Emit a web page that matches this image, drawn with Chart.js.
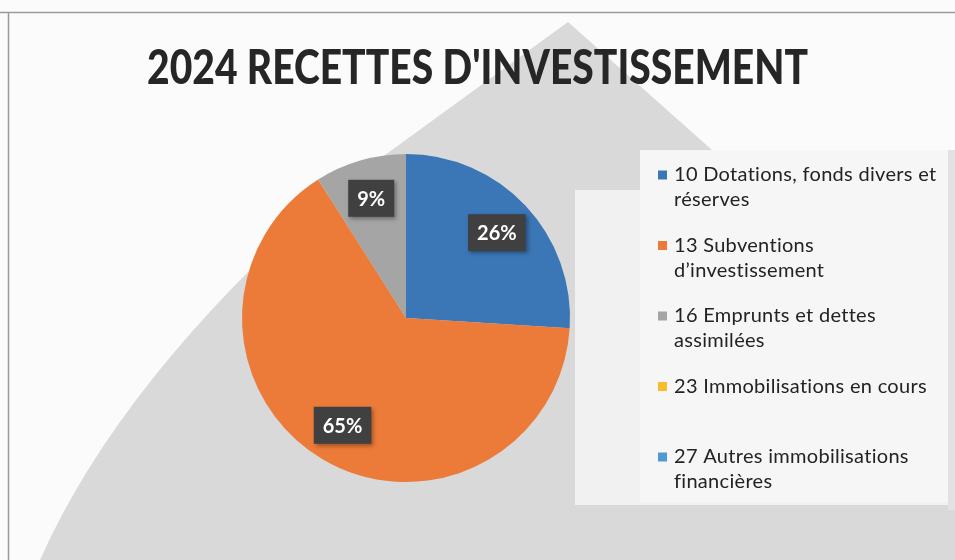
<!DOCTYPE html>
<html>
<head>
<meta charset="utf-8">
<script src="https://cdn.jsdelivr.net/npm/chart.js@4/dist/chart.umd.min.js"></script>
<style>
  html, body { margin: 0; padding: 0; background: #fbfbfb; }
  #wrap { width: 955px; height: 560px; position: relative; }
</style>
</head>
<body>
<div id="wrap"><canvas id="pie" width="955" height="560"></canvas></div>
<script>
const chartTitle = "2024 RECETTES D'INVESTISSEMENT";
const categories = [
  "10 Dotations, fonds divers et réserves",
  "13 Subventions d’investissement",
  "16 Emprunts et dettes assimilées",
  "23 Immobilisations en cours",
  "27 Autres immobilisations financières"
];
const shares = [26, 65, 9, 0, 0];
const sliceColors = ["#3b76b6", "#ec7b3a", "#a5a5a5", "#f9bd2c", "#4f9bd1"];

// scanned-page backdrop: grey watermark shape and the frame lines
const backdrop = {
  id: "backdrop",
  beforeDraw(chart) {
    const ctx = chart.ctx;
    ctx.save();
    ctx.fillStyle = "#fbfbfb";
    ctx.fillRect(0, 0, 955, 560);

    ctx.fillStyle = "#f1f1f1";
    ctx.fillRect(575, 185, 380, 325);

    ctx.fillStyle = "#d9d9d9";
    ctx.beginPath();
    ctx.moveTo(40, 560);
    ctx.quadraticCurveTo(120, 380, 330, 195);
    ctx.lineTo(568, 22);
    ctx.lineTo(712, 150);
    ctx.lineTo(645, 150);
    ctx.lineTo(645, 190);
    ctx.lineTo(575, 190);
    ctx.lineTo(575, 505);
    ctx.lineTo(955, 505);
    ctx.lineTo(955, 560);
    ctx.closePath();
    ctx.fill();

    ctx.fillStyle = "#e2e2e2";
    ctx.fillRect(948, 150, 7, 360);

    // legend panel
    ctx.fillStyle = "#f6f6f6";
    ctx.fillRect(640, 150, 308, 352);

    ctx.strokeStyle = "#9a9a9a";
    ctx.lineWidth = 1.5;
    ctx.beginPath();
    ctx.moveTo(0, 12.5);
    ctx.lineTo(955, 12.5);
    ctx.moveTo(8.5, 12);
    ctx.lineTo(8.5, 560);
    ctx.stroke();
    ctx.restore();
  }
};

const titleAndLegend = {
  id: "titleAndLegend",
  afterDraw(chart) {
    const ctx = chart.ctx;
    ctx.save();

    // title, squeezed to the narrow face of the original
    ctx.font = "900 47px Lato";
    ctx.fillStyle = "#262626";
    ctx.textBaseline = "alphabetic";
    const tw = ctx.measureText(chartTitle).width;
    const sx = 661 / tw;
    ctx.save();
    ctx.translate(147, 84);
    ctx.scale(sx, 1);
    ctx.fillText(chartTitle, 0, 0);
    ctx.restore();

    // percentage labels in dark boxes
    const meta = chart.getDatasetMeta(0);
    ctx.font = "bold 20px Lato";
    ctx.textAlign = "center";
    ctx.textBaseline = "middle";
    meta.data.forEach((arc, i) => {
      const v = shares[i];
      if (!v) return;
      const p = arc.getProps(["x", "y", "startAngle", "endAngle", "outerRadius"], true);
      const mid = (p.startAngle + p.endAngle) / 2;
      const lx = p.x + Math.cos(mid) * p.outerRadius * 0.76;
      const ly = p.y + Math.sin(mid) * p.outerRadius * 0.76;
      const txt = v + "%";
      const w = ctx.measureText(txt).width + 18;
      const h = 37;
      ctx.save();
      ctx.shadowColor = "rgba(0,0,0,0.35)";
      ctx.shadowBlur = 4;
      ctx.shadowOffsetX = 2;
      ctx.shadowOffsetY = 2;
      ctx.fillStyle = "#404040";
      ctx.fillRect(lx - w / 2, ly - h / 2, w, h);
      ctx.restore();
      ctx.fillStyle = "#ffffff";
      ctx.fillText(txt, lx, ly + 1);
    });

    // legend
    ctx.font = "20px Lato";
    ctx.letterSpacing = "0.3px";
    ctx.textAlign = "left";
    ctx.textBaseline = "middle";
    const maxW = 272;
    chart.data.labels.forEach((label, i) => {
      const y0 = 175 + i * 70.5;
      ctx.fillStyle = sliceColors[i];
      ctx.fillRect(658, y0 - 4.5, 9, 9);
      const words = label.split(" ");
      const lines = [];
      let cur = "";
      words.forEach(wd => {
        const test = cur ? cur + " " + wd : wd;
        if (cur && ctx.measureText(test).width > maxW) {
          lines.push(cur);
          cur = wd;
        } else {
          cur = test;
        }
      });
      lines.push(cur);
      ctx.fillStyle = "#232323";
      lines.forEach((ln, k) => ctx.fillText(ln, 674, y0 + k * 25));
    });
    ctx.restore();
  }
};

new Chart(document.getElementById("pie").getContext("2d"), {
  type: "pie",
  data: {
    labels: categories,
    datasets: [{
      data: shares,
      backgroundColor: sliceColors,
      borderWidth: 0
    }]
  },
  options: {
    responsive: false,
    animation: false,
    layout: { padding: { top: 154, bottom: 78, left: 242, right: 385 } },
    plugins: {
      legend: { display: false },
      title: { display: false },
      tooltip: { enabled: false }
    }
  },
  plugins: [backdrop, titleAndLegend]
});
</script>
</body>
</html>
